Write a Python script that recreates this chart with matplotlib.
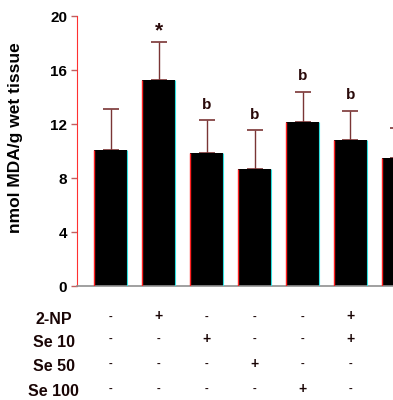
import numpy as np
import matplotlib.pyplot as plt
from matplotlib.transforms import blended_transform_factory

plt.rcParams['font.family'] = ['Liberation Sans', 'DejaVu Sans']
plt.rcParams['font.weight'] = 'bold'
plt.rcParams['axes.labelweight'] = 'bold'

# MDA level per group (mean and upper SD)
means = [10.1, 15.25, 9.85, 8.7, 12.15, 10.8, 9.5]
sds = [3.0, 2.85, 2.45, 2.85, 2.25, 2.2, 2.2]
marks = ['', '*', 'b', 'b', 'b', 'b', 'b']

row_labels = ['2-NP', 'Se 10', 'Se 50', 'Se 100']
signs = [
    ['-', '+', '-', '-', '-', '+', '+'],
    ['-', '-', '+', '-', '-', '+', '-'],
    ['-', '-', '-', '+', '-', '-', '+'],
    ['-', '-', '-', '-', '+', '-', '-'],
]

x = np.arange(len(means))
w = 0.68

fig = plt.figure(figsize=(3.93, 4.0), dpi=100)
ax = fig.add_axes([0.196, 0.285, 0.885, 0.675])

ax.bar(x, means, width=w, color='black', zorder=2)
ax.vlines(x - w / 2, 0, means, color='#ff2020', lw=1.0, zorder=3)
ax.vlines(x + w / 2, 0, means, color='#30e0e0', lw=0.8, zorder=3)
ax.errorbar(x, means, yerr=[np.zeros(len(sds)), sds], fmt='none',
            ecolor='#7a3535', elinewidth=1.0, capsize=6, capthick=1.2, zorder=1)

offsets = {'*': 0.1, 'b': 0.6}
sizes = {'*': 15, 'b': 11}
for xi, m, s, t in zip(x, means, sds, marks):
    if t:
        ax.text(xi, m + s + offsets[t], t, ha='center', va='bottom',
                fontsize=sizes[t], color='#2a0a0a', clip_on=False)

ax.set_xlim(-0.7, 6.55)
ax.set_ylim(0, 20)
ax.set_yticks([0, 4, 8, 12, 16, 20])
ax.set_xticks([])
ax.tick_params(axis='y', direction='out', length=4, width=1, color='#c06060',
               labelsize=11, pad=3)
ax.spines['top'].set_visible(False)
ax.spines['right'].set_visible(False)
ax.spines['left'].set_color('#ff3030')
ax.spines['bottom'].set_color('#909090')
ax.spines['bottom'].set_linewidth(1.2)
ax.set_ylabel('nmol MDA/g wet tissue', fontsize=12.5)
ax.yaxis.set_label_coords(-0.155, 0.548)

# treatment table under the bars
tr = blended_transform_factory(ax.transData, fig.transFigure)
row_y = [0.201, 0.144, 0.083, 0.020]
for lab, ry, row in zip(row_labels, row_y, signs):
    fig.text(0.137, ry, lab, ha='center', va='center', fontsize=11.5, color='#1a0505')
    for xi, s in zip(x, row):
        ax.text(xi, ry + 0.008, s, transform=tr, ha='center', va='center',
                fontsize=10 if s == '+' else 8, color='#1a0505', clip_on=False)

fig.savefig('out.png', dpi=100)
